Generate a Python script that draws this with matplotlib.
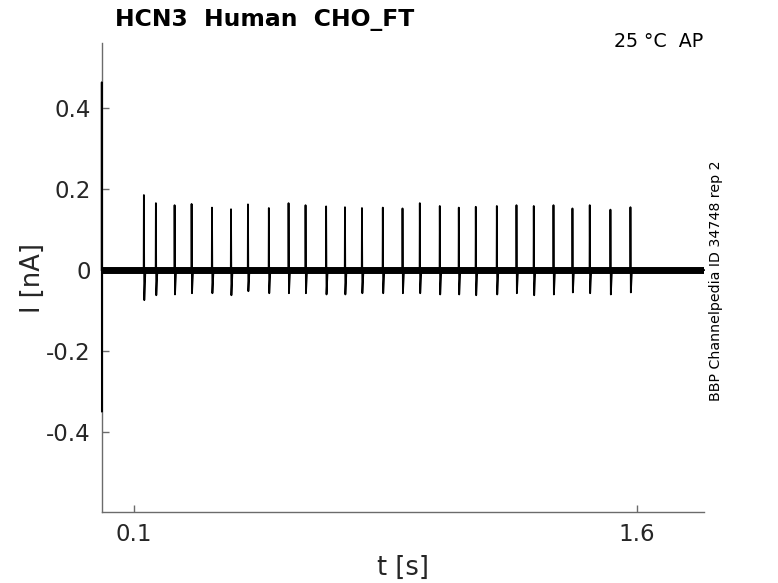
import matplotlib
matplotlib.use("Agg")
import matplotlib.pyplot as plt
import numpy as np

# ---- data ----
title = "HCN3  Human  CHO_FT"
condition = "25 °C  AP"
source = "BBP Channelpedia ID 34748 rep 2"

t_start, t_end = 0.003, 1.80
baseline_level = 0.0

transient_t = [0.0032, 0.0036]
transient_i = [0.463, -0.349]

spike_t = [0.1289, 0.1647, 0.2205, 0.2712, 0.3321, 0.3888, 0.4394, 0.5017, 0.5605,
           0.6112, 0.6726, 0.7288, 0.7795, 0.8417, 0.9005, 0.9521, 1.0117, 1.0684,
           1.1191, 1.1819, 1.2405, 1.2921, 1.3509, 1.4075, 1.4591, 1.5208, 1.5805]
spike_peak = [0.185, 0.165, 0.160, 0.163, 0.154, 0.150, 0.162, 0.153, 0.165,
              0.160, 0.157, 0.155, 0.153, 0.154, 0.152, 0.165, 0.158, 0.154,
              0.156, 0.158, 0.160, 0.158, 0.160, 0.152, 0.160, 0.149, 0.155]
spike_trough = [-0.074, -0.062, -0.060, -0.057, -0.057, -0.062, -0.052, -0.057, -0.057,
                -0.057, -0.060, -0.060, -0.057, -0.057, -0.057, -0.057, -0.060, -0.060,
                -0.062, -0.060, -0.057, -0.062, -0.060, -0.055, -0.057, -0.060, -0.055]

xticks = [0.1, 1.6]
xticklabels = ["0.1", "1.6"]
yticks = [-0.4, -0.2, 0.0, 0.2, 0.4]
yticklabels = ["-0.4", "-0.2", "0", "0.2", "0.4"]

# ---- build trace ----
tt = [t_start, transient_t[0], transient_t[1], transient_t[1] + 0.0004]
ii = [baseline_level, transient_i[0], transient_i[1], baseline_level]
for t, p, q in zip(spike_t, spike_peak, spike_trough):
    tt += [t - 0.0006, t, t + 0.0012, t + 0.0045]
    ii += [baseline_level, p, q, baseline_level]
tt.append(t_end)
ii.append(baseline_level)

fig = plt.figure(figsize=(7.78, 5.83), dpi=100)
ax = fig.add_axes([0.1307, 0.1213, 0.9049 - 0.1307, 0.9257 - 0.1213])

# noisy baseline band
ax.plot([transient_t[1], t_end], [baseline_level, baseline_level], color="black",
        lw=5.0, solid_capstyle="butt", zorder=2)
ax.plot(tt, ii, color="black", lw=1.3, zorder=3, clip_on=False)

ax.set_xlim(t_start, t_end)
ax.set_ylim(-0.597, 0.559)
ax.set_xticks(xticks)
ax.set_xticklabels(xticklabels)
ax.set_yticks(yticks)
ax.set_yticklabels(yticklabels)

for s in ["top", "right"]:
    ax.spines[s].set_visible(False)
for s in ["left", "bottom"]:
    ax.spines[s].set_color("#6b6b6b")
    ax.spines[s].set_linewidth(1.0)
    ax.spines[s].set_zorder(1)
ax.tick_params(direction="in", length=5, width=1.0, color="#6b6b6b",
               labelsize=16.5, labelcolor="#262626", pad=8)

ax.set_xlabel("t [s]", fontsize=18.5, color="#262626", labelpad=6)
ax.set_ylabel("I [nA]", fontsize=18.5, color="#262626", labelpad=0)

fig.text(115 / 778, 1 - 26 / 583, title, fontsize=16.9, fontweight="bold",
         ha="left", va="baseline", color="black")
fig.text(703 / 778, 1 - 47.3 / 583, condition, fontsize=13.7, ha="right",
         va="baseline", color="black")
fig.text(716 / 778, 1 - 281 / 583, source, fontsize=10.2, rotation=90,
         ha="center", va="center", color="black")

fig.savefig("out.png", dpi=100)
